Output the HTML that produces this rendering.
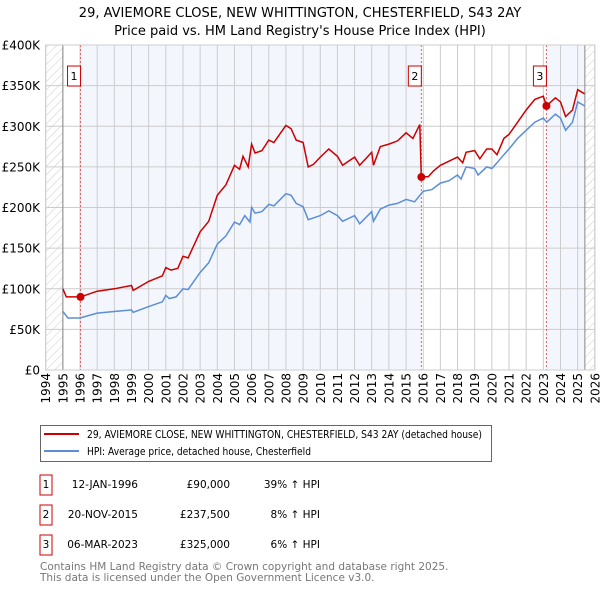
<!DOCTYPE html>
<html><head><meta charset="utf-8"><style>
body{margin:0;background:#fff;width:600px;height:590px;overflow:hidden}
svg{font-family:"DejaVu Sans","Liberation Sans",sans-serif}
</style></head><body>
<svg id="chart" width="600" height="590" xmlns="http://www.w3.org/2000/svg">
<defs><pattern id="hatch" width="6" height="6" patternUnits="userSpaceOnUse" patternTransform="rotate(45)"><line x1="0" y1="0" x2="0" y2="6" stroke="#ccc" stroke-width="1"/></pattern></defs>
<text x="300" y="17" text-anchor="middle" font-size="13">29, AVIEMORE CLOSE, NEW WHITTINGTON, CHESTERFIELD, S43 2AY</text>
<text x="300" y="35" text-anchor="middle" font-size="13">Price paid vs. HM Land Registry's House Price Index (HPI)</text>
<g id="plot"></g>
<rect x="40.5" y="425.5" width="451" height="36" fill="#fff" stroke="#666"/>
<line x1="44" y1="434" x2="79" y2="434" stroke="#cc0000" stroke-width="2"/>
<text x="87" y="438" font-size="10.5" textLength="395" lengthAdjust="spacingAndGlyphs">29, AVIEMORE CLOSE, NEW WHITTINGTON, CHESTERFIELD, S43 2AY (detached house)</text>
<line x1="44" y1="451" x2="79" y2="451" stroke="#5b8ed6" stroke-width="2"/>
<text x="87" y="455" font-size="10.5" textLength="224" lengthAdjust="spacingAndGlyphs">HPI: Average price, detached house, Chesterfield</text>
<g font-size="10.5">
<rect x="40" y="475" width="12" height="20" fill="#fff" stroke="#cc0000"/><text x="46" y="488" text-anchor="middle">1</text>
<text x="138" y="488" text-anchor="end">12-JAN-1996</text><text x="230" y="488" text-anchor="end">£90,000</text><text x="320" y="488" text-anchor="end">39% ↑ HPI</text>
<rect x="40" y="505" width="12" height="20" fill="#fff" stroke="#cc0000"/><text x="46" y="518" text-anchor="middle">2</text>
<text x="138" y="518" text-anchor="end">20-NOV-2015</text><text x="230" y="518" text-anchor="end">£237,500</text><text x="320" y="518" text-anchor="end">8% ↑ HPI</text>
<rect x="40" y="535" width="12" height="20" fill="#fff" stroke="#cc0000"/><text x="46" y="548" text-anchor="middle">3</text>
<text x="138" y="548" text-anchor="end">06-MAR-2023</text><text x="230" y="548" text-anchor="end">£325,000</text><text x="320" y="548" text-anchor="end">6% ↑ HPI</text>
</g>
<text x="40" y="570" font-size="10.5" fill="#777">Contains HM Land Registry data © Crown copyright and database right 2025.</text>
<text x="40" y="581" font-size="10.5" fill="#777">This data is licensed under the Open Government Licence v3.0.</text>
</svg>
<script>
const hpiT=[1995,1995.3,1996,1997,1998,1999,1999.1,2000,2000.8,2001,2001.2,2001.6,2002,2002.3,2003,2003.5,2004,2004.5,2005,2005.3,2005.6,2005.9,2006,2006.2,2006.6,2007,2007.3,2008,2008.3,2008.6,2009,2009.3,2010,2010.5,2011,2011.3,2012,2012.3,2013,2013.1,2013.5,2014,2014.5,2015,2015.5,2016,2016.5,2017,2017.5,2018,2018.2,2018.5,2019,2019.2,2019.7,2020,2020.3,2020.7,2021,2021.5,2022,2022.5,2023,2023.2,2023.7,2024,2024.3,2024.7,2025,2025.4];
const hpiV=[72,64,64,70,72,74,71,78,84,92,88,90,100,99,120,132,155,165,182,179,190,182,200,193,195,204,202,217,215,205,201,185,190,196,190,183,190,180,195,183,198,203,205,210,207,220,222,230,233,240,235,250,248,240,250,248,255,265,272,285,295,305,310,305,315,310,295,305,330,325];
const priceT=[1995,1995.2,1996.03,1997,1998,1999,1999.1,2000,2000.8,2001,2001.3,2001.7,2002,2002.3,2003,2003.5,2004,2004.5,2005,2005.3,2005.5,2005.8,2006,2006.2,2006.6,2007,2007.3,2008,2008.3,2008.6,2009,2009.3,2009.6,2010,2010.5,2011,2011.3,2012,2012.3,2013,2013.1,2013.5,2014,2014.5,2015,2015.4,2015.8,2015.89,2016.3,2016.6,2017,2017.5,2018,2018.3,2018.5,2019,2019.3,2019.7,2020,2020.3,2020.7,2021,2021.5,2022,2022.5,2023,2023.18,2023.7,2024,2024.3,2024.7,2025,2025.4];
const priceV=[100,90,90,97,100,104,98,109,116,126,123,125,140,138,170,183,215,228,252,247,263,250,278,267,270,283,280,301,297,283,280,250,253,262,272,263,252,262,252,268,252,275,278,282,292,285,302,237.5,238,245,252,257,262,255,268,270,260,272,272,265,285,290,305,320,333,337,325,335,330,312,320,345,340];
const saleT=[1996.03,2015.89,2023.18];
const saleV=[90,237.5,325];
const saleLabels=["1","2","3"];
const yTicks=[0,50,100,150,200,250,300,350,400];
const yTickLabels=["£0","£50K","£100K","£150K","£200K","£250K","£300K","£350K","£400K"];
const years=[];for(let y=1994;y<=2026;y++)years.push(y);
const X=t=>45.7+(t-1994)*17.16, Y=v=>370-v*0.8125;
const NS="http://www.w3.org/2000/svg", g=document.getElementById('plot');
function mk(tag,a){const e=document.createElementNS(NS,tag);for(const k in a)e.setAttribute(k,a[k]);g.appendChild(e);return e;}
const pTop=Y(400),pBot=Y(0);
let e;
e=mk('rect',{x:X(1994),y:pTop,width:X(2026)-X(1994),height:pBot-pTop,fill:'#fff'});


e=mk('rect',{x:X(1994),y:pTop,width:X(1995)-X(1994),height:pBot-pTop,fill:'url(#hatch)'});


e=mk('rect',{x:X(2025.42),y:pTop,width:X(2026)-X(2025.42),height:pBot-pTop,fill:'url(#hatch)'});


e=mk('rect',{x:X(saleT[0]),y:pTop,width:X(saleT[1])-X(saleT[0]),height:pBot-pTop,fill:'#eef3fc',opacity:0.7});


e=mk('rect',{x:X(saleT[2]),y:pTop,width:X(2025.42)-X(saleT[2]),height:pBot-pTop,fill:'#eef3fc',opacity:0.7});


years.forEach(y=>{
 e=mk('line',{x1:X(y),x2:X(y),y1:pTop,y2:pBot,stroke:'#ccc','stroke-width':1});
 
 
 e=mk('text',{x:0,y:0,transform:`translate(${X(y)+4.5},${pBot+3}) rotate(-90)`,'text-anchor':'end','font-size':12});
 e.textContent=y;
 
 
});
yTicks.forEach((v,i)=>{
 e=mk('line',{x1:X(1994),x2:X(2026),y1:Y(v),y2:Y(v),stroke:'#ccc','stroke-width':1});
 
 
 e=mk('text',{x:40,y:Y(v)+4.5,'text-anchor':'end','font-size':12});
 e.textContent=yTickLabels[i];
 
 
});
e=mk('line',{x1:X(1995),x2:X(1995),y1:pTop,y2:pBot,stroke:'#888'});


e=mk('line',{x1:X(2025.42),x2:X(2025.42),y1:pTop,y2:pBot,stroke:'#888'});


saleT.forEach((t,i)=>{
 e=mk('line',{x1:X(t),x2:X(t),y1:pTop,y2:pBot,stroke:'#e06060','stroke-dasharray':'2,2'});
 
 
});
const pts=(T,V)=>T.map((t,i)=>X(t).toFixed(1)+','+Y(V[i]).toFixed(1)).join(' ');
e=mk('polyline',{points:pts(hpiT,hpiV),fill:'none',stroke:'#5b8ed6','stroke-width':1.5});


e=mk('polyline',{points:pts(priceT,priceV),fill:'none',stroke:'#cc0000','stroke-width':1.5});


saleT.forEach((t,i)=>{
 e=mk('circle',{cx:X(t),cy:Y(saleV[i]),r:4,fill:'#cc0000'});
 
 
 e=mk('rect',{x:X(t)-13,y:66,width:13,height:20,fill:'#fff',stroke:'#cc0000'});
 
 
 e=mk('text',{x:X(t)-6.5,y:80,'text-anchor':'middle','font-size':11});
 e.textContent=saleLabels[i];
 
 
});
e=mk('rect',{x:X(1994),y:pTop,width:X(2026)-X(1994),height:pBot-pTop,fill:'none',stroke:'#ccc'});


</script>
</body></html>
